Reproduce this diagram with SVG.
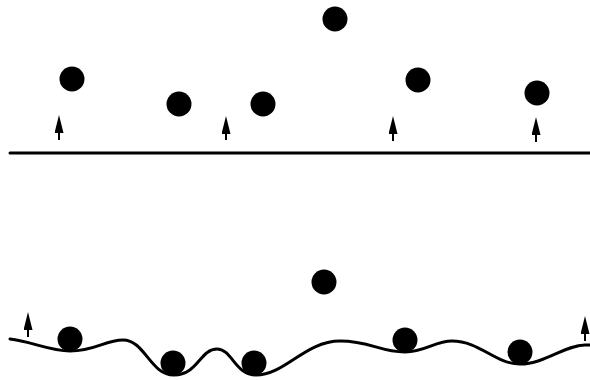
<svg xmlns="http://www.w3.org/2000/svg" width="590" height="380" viewBox="0 0 590 380">
  <style>
    .ball { fill: #000; }
    .ground { fill: none; stroke: #000; stroke-width: 3; stroke-linecap: round; stroke-linejoin: round; }
    .arrow { stroke: #000; stroke-width: 2; fill: none; marker-end: url(#head); }
  </style>
  <defs>
    <marker id="head" markerUnits="userSpaceOnUse" markerWidth="18" markerHeight="9" viewBox="0 0 18 9" refX="0" refY="4.5" orient="auto">
      <path d="M0,0 L18,4.5 L0,9 Z" fill="#000"/>
    </marker>
  </defs>
  <rect width="590" height="380" fill="#fff"/>

  <!-- top panel: flat surface -->
  <g id="flat-surface">
    <line class="ground" x1="10" y1="153" x2="590" y2="153"/>
  </g>
  <g id="top-ball-1"><circle class="ball" cx="72" cy="79" r="12.5"/></g>
  <g id="top-ball-2"><circle class="ball" cx="179" cy="104" r="12.5"/></g>
  <g id="top-ball-3"><circle class="ball" cx="263" cy="104" r="12.5"/></g>
  <g id="top-ball-4"><circle class="ball" cx="335" cy="19" r="12.5"/></g>
  <g id="top-ball-5"><circle class="ball" cx="418" cy="80" r="12.5"/></g>
  <g id="top-ball-6"><circle class="ball" cx="537" cy="93" r="12.5"/></g>

  <!-- bottom panel: rough surface -->
  <g id="rough-surface">
    <path class="ground" d="M10,339 C30,341 50,351 70,351 C95,351 105,340 123,340 C145,340 150,375 174,375 C198,375 200,349 217,349 C232,349 235,375 256,375 C285,375 305,341 340,341 C370,341 380,352 405,352 C425,352 435,341 452,341 C480,341 495,364 520,364 C545,364 565,345 585,345 L590,345"/>
  </g>
  <g id="bottom-ball-1"><circle class="ball" cx="70" cy="339" r="12.5"/></g>
  <g id="bottom-ball-2"><circle class="ball" cx="173" cy="363" r="12.5"/></g>
  <g id="bottom-ball-3"><circle class="ball" cx="254" cy="363" r="12.5"/></g>
  <g id="bottom-ball-4"><circle class="ball" cx="324" cy="282" r="12.5"/></g>
  <g id="bottom-ball-5"><circle class="ball" cx="405" cy="340" r="12.5"/></g>
  <g id="bottom-ball-6"><circle class="ball" cx="520" cy="352" r="12.5"/></g>

  <g id="connectors">
    <line class="arrow" x1="59" y1="140" x2="59" y2="133"/>
    <line class="arrow" x1="226" y1="140" x2="226" y2="134"/>
    <line class="arrow" x1="393" y1="141" x2="393" y2="134"/>
    <line class="arrow" x1="536" y1="142" x2="536" y2="135"/>
    <line class="arrow" x1="28" y1="337" x2="28" y2="330"/>
    <line class="arrow" x1="585" y1="341" x2="585" y2="334"/>
  </g>
</svg>
